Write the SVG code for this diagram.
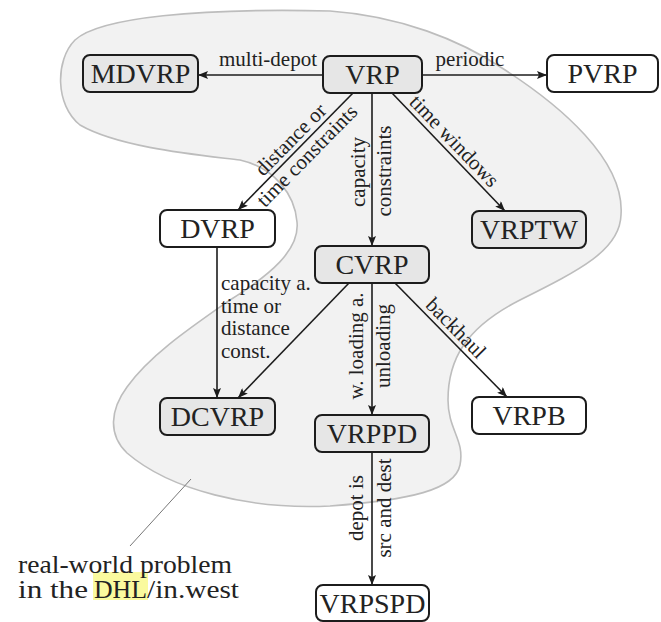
<svg xmlns="http://www.w3.org/2000/svg" width="661" height="622" viewBox="0 0 661 622">
  <style>
    .node rect { stroke: #1c1c1c; stroke-width: 2; }
    .gray rect { fill: #e6e6e6; }
    .white rect { fill: #ffffff; }
    text { font-family: 'Liberation Serif', 'DejaVu Serif', serif; fill: #222; }
    .node text { font-size: 28px; text-anchor: middle; }
    .edge { stroke: #1c1c1c; stroke-width: 1.6; fill: none; marker-end: url(#arrow); }
    .lbl { font-size: 21px; }
    .mid { text-anchor: middle; }
    .note { font-size: 25px; }
  </style>
  <defs>
    <marker id="arrow" markerUnits="userSpaceOnUse" markerWidth="11" markerHeight="8" refX="10" refY="4" orient="auto">
      <path d="M0,0 L10,4 L0,8 L2,4 z" fill="#1c1c1c"/>
    </marker>
  </defs>

  <g id="region">
    <path d="M 330,11 C 400,16 460,40 502,68 C 560,105 625,160 621,215 C 620,250 580,270 520,300 C 465,328 448,360 448,400 C 448,430 465,440 460,465 C 455,490 410,500 330,506 C 250,510 170,490 127,453 C 108,435 110,410 127,387 C 150,355 190,328 230,300 C 270,275 300,250 297,222 C 295,195 275,168 240,160 C 200,155 120,148 80,125 C 55,105 55,60 75,40 C 100,17 200,8 330,11 Z" fill="#f2f2f2" stroke="#bdbdbd" stroke-width="1.6"/>
  </g>

  <g id="connectors">
    <path class="edge" d="M323,75 L198,75"/>
    <path class="edge" d="M422,75 L547,75"/>
    <path class="edge" d="M353,93 L238,210"/>
    <path class="edge" d="M372,93 L372,246"/>
    <path class="edge" d="M392,93 L505,211"/>
    <path class="edge" d="M217,247 L217,398"/>
    <path class="edge" d="M349,283 L238,398"/>
    <path class="edge" d="M372,283 L372,415"/>
    <path class="edge" d="M395,283 L507,397"/>
    <path class="edge" d="M372,452 L372,585"/>
  </g>

  <g id="edge-labels">
    <text class="lbl mid" x="268" y="66" font-family="Liberation Serif, serif">multi-depot</text>
    <text class="lbl mid" x="470" y="66">periodic</text>
    <g transform="translate(295.5,151.5) rotate(-45.5)">
      <text class="lbl mid" x="5" y="-5">distance or</text>
      <text class="lbl mid" x="5" y="18">time constraints</text>
    </g>
    <text class="lbl mid" transform="translate(365,172) rotate(-90)">capacity</text>
    <text class="lbl mid" transform="translate(391,171) rotate(-90)">constraints</text>
    <g transform="translate(448.5,152) rotate(46.2)">
      <text class="lbl mid" x="-4" y="-5">time windows</text>
    </g>
    <text class="lbl" x="221" y="290">capacity a.</text>
    <text class="lbl" x="221" y="313">time or</text>
    <text class="lbl" x="221" y="335">distance</text>
    <text class="lbl" x="221" y="358">const.</text>
    <text class="lbl mid" transform="translate(363,346) rotate(-90)">w. loading a.</text>
    <text class="lbl mid" transform="translate(390,346) rotate(-90)">unloading</text>
    <g transform="translate(451,340) rotate(45.5)">
      <text class="lbl mid" x="-5" y="-5">backhaul</text>
    </g>
    <text class="lbl mid" transform="translate(363,508) rotate(-90)">depot is</text>
    <text class="lbl mid" transform="translate(391,508) rotate(-90)">src and dest</text>
  </g>

  <g id="VRP" class="node gray"><rect x="323" y="56" width="99" height="37" rx="7"/><text x="372.5" y="84">VRP</text></g>
  <g id="MDVRP" class="node gray"><rect x="83" y="55" width="115" height="37" rx="7"/><text x="140.5" y="83">MDVRP</text></g>
  <g id="PVRP" class="node white"><rect x="547" y="55" width="111" height="37" rx="7"/><text x="602.5" y="83">PVRP</text></g>
  <g id="DVRP" class="node white"><rect x="160" y="210" width="115" height="37" rx="7"/><text x="217.5" y="238">DVRP</text></g>
  <g id="VRPTW" class="node gray"><rect x="472" y="211" width="114" height="37" rx="7"/><text x="529" y="239">VRPTW</text></g>
  <g id="CVRP" class="node gray"><rect x="315" y="246" width="114" height="37" rx="7"/><text x="372" y="274">CVRP</text></g>
  <g id="DCVRP" class="node gray"><rect x="160" y="398" width="115" height="37" rx="7"/><text x="217.5" y="426">DCVRP</text></g>
  <g id="VRPPD" class="node gray"><rect x="315" y="415" width="114" height="37" rx="7"/><text x="372" y="443">VRPPD</text></g>
  <g id="VRPB" class="node white"><rect x="472" y="397" width="114" height="37" rx="7"/><text x="529" y="425">VRPB</text></g>
  <g id="VRPSPD" class="node white"><rect x="316" y="585" width="113" height="36" rx="7"/><text x="372.5" y="613">VRPSPD</text></g>

  <g id="annotation">
    <line x1="191" y1="479" x2="130" y2="546" stroke="#777" stroke-width="1"/>
    <rect x="93" y="572" width="55" height="28" fill="#fafa9e"/>
    <text class="note" x="18" y="573" textLength="214" lengthAdjust="spacingAndGlyphs">real-world problem</text>
    <text class="note" x="18" y="598" textLength="70" lengthAdjust="spacingAndGlyphs">in the</text>
    <text class="note" x="94" y="598" textLength="53" lengthAdjust="spacingAndGlyphs">DHL</text>
    <text class="note" x="147" y="598" textLength="92" lengthAdjust="spacingAndGlyphs">/in.west</text>
  </g>
</svg>
